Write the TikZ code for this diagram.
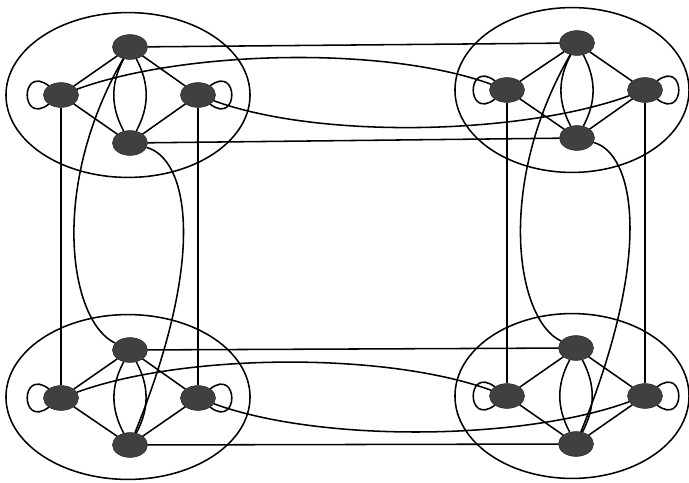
\documentclass[tikz,border=0pt]{standalone}
\usetikzlibrary{shapes.geometric}
\begin{document}
\begin{tikzpicture}[
    x=0.025cm, y=0.025cm,
    grupo/.style={
        ellipse,
        draw=black,
        line width=1.1pt,
        minimum width=6.1cm,
        minimum height=4.12cm,
        inner sep=0pt
    },
    vertice/.style={
        ellipse,
        draw=black!85,
        fill=black!75,
        minimum width=0.875cm,
        minimum height=0.62cm,
        inner sep=0pt
    },
    aresta/.style={line width=1.1pt},
    laco/.style={line width=1.1pt, min distance=9mm},
    desceesq/.style={line width=1.1pt, out=240, in=155, out distance=3.75cm, in distance=1.25cm},
    descedir/.style={line width=1.1pt, out=-15, in=68, out distance=1cm, in distance=5cm}
]
\useasboundingbox (0,0) rectangle (689,482);

% GRUPOS (ELIPSES EXTERNAS)
\node[grupo] (gno) at (128,387) {};
\node[grupo, minimum width=5.85cm] (gne) at (572,392) {};
\node[grupo] (gso) at (128,85) {};
\node[grupo, minimum width=5.85cm] (gse) at (572,86) {};

% GRUPO 1: SUPERIOR ESQUERDO
\node[vertice] (nocima) at (130,435) {};
\node[vertice] (noesq) at (61,387) {};
\node[vertice] (nodir) at (198,387) {};
\node[vertice] (nobaixo) at (130,339) {};

% GRUPO 2: SUPERIOR DIREITO
\node[vertice] (necima) at (577,439) {};
\node[vertice] (neesq) at (507,392) {};
\node[vertice] (nedir) at (645,392) {};
\node[vertice] (nebaixo) at (577,344) {};

% GRUPO 3: INFERIOR ESQUERDO
\node[vertice] (socima) at (130,132) {};
\node[vertice] (soesq) at (61,84) {};
\node[vertice] (sodir) at (198,84) {};
\node[vertice] (sobaixo) at (130,37) {};

% GRUPO 4: INFERIOR DIREITO
\node[vertice] (secima) at (576,134) {};
\node[vertice] (seesq) at (507,86) {};
\node[vertice] (sedir) at (645,86) {};
\node[vertice] (sebaixo) at (576,38) {};

% --- ARESTAS INTERNAS ---
\draw[aresta] (nocima) -- (noesq);
\draw[aresta] (nocima) -- (nodir);
\draw[aresta] (nobaixo) -- (noesq);
\draw[aresta] (nobaixo) -- (nodir);
\draw[aresta] (nocima) to[bend left=28] (nobaixo);
\draw[aresta] (nocima) to[bend right=28] (nobaixo);
\draw[laco] (noesq) to[out=143,in=217] (noesq);
\draw[laco] (nodir) to[out=37,in=-37] (nodir);

\draw[aresta] (necima) -- (neesq);
\draw[aresta] (necima) -- (nedir);
\draw[aresta] (nebaixo) -- (neesq);
\draw[aresta] (nebaixo) -- (nedir);
\draw[aresta] (necima) to[bend left=28] (nebaixo);
\draw[aresta] (necima) to[bend right=28] (nebaixo);
\draw[laco] (neesq) to[out=143,in=217] (neesq);
\draw[laco] (nedir) to[out=37,in=-37] (nedir);

\draw[aresta] (socima) -- (soesq);
\draw[aresta] (socima) -- (sodir);
\draw[aresta] (sobaixo) -- (soesq);
\draw[aresta] (sobaixo) -- (sodir);
\draw[aresta] (socima) to[bend left=28] (sobaixo);
\draw[aresta] (socima) to[bend right=28] (sobaixo);
\draw[laco] (soesq) to[out=143,in=217] (soesq);
\draw[laco] (sodir) to[out=37,in=-37] (sodir);

\draw[aresta] (secima) -- (seesq);
\draw[aresta] (secima) -- (sedir);
\draw[aresta] (sebaixo) -- (seesq);
\draw[aresta] (sebaixo) -- (sedir);
\draw[aresta] (secima) to[bend left=28] (sebaixo);
\draw[aresta] (secima) to[bend right=28] (sebaixo);
\draw[laco] (seesq) to[out=143,in=217] (seesq);
\draw[laco] (sedir) to[out=37,in=-37] (sedir);

% --- ARESTAS HORIZONTAIS ---
\draw[aresta] (nocima) -- (necima);
\draw[aresta] (nobaixo) -- (nebaixo);
\draw[aresta] (noesq) to[out=20,in=160,looseness=0.7] (neesq);
\draw[aresta] (nodir) to[out=-20,in=200,looseness=0.7] (nedir);

\draw[aresta] (socima) -- (secima);
\draw[aresta] (sobaixo) -- (sebaixo);
\draw[aresta] (soesq) to[out=20,in=160,looseness=0.7] (seesq);
\draw[aresta] (sodir) to[out=-20,in=200,looseness=0.7] (sedir);

% --- ARESTAS VERTICAIS ---
\draw[aresta] (noesq) -- (soesq);
\draw[aresta] (nodir) -- (sodir);
\draw[desceesq] (nocima) to (socima);
\draw[descedir] (nobaixo) to (sobaixo);

\draw[aresta] (neesq) -- (seesq);
\draw[aresta] (nedir) -- (sedir);
\draw[desceesq] (necima) to (secima);
\draw[descedir] (nebaixo) to (sebaixo);

\end{tikzpicture}
\end{document}
